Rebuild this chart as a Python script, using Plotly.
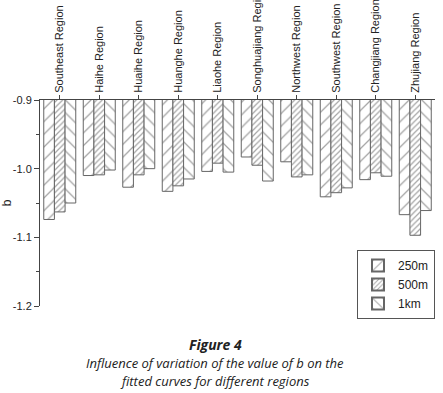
import plotly.graph_objects as go

regions = ["Southeast Region", "Haihe Region", "Huaihe Region", "Huanghe Region",
           "Liaohe Region", "Songhuajiang Region", "Northwest Region",
           "Southwest Region", "Changjiang Region", "Zhujiang Region"]
b_250m = [-1.074, -1.010, -1.027, -1.033, -1.004, -0.983, -0.990, -1.041, -1.016, -1.067]
b_500m = [-1.063, -1.009, -1.009, -1.025, -0.992, -0.995, -1.012, -1.035, -1.006, -1.097]
b_1km = [-1.050, -1.002, -1.000, -1.015, -1.005, -1.018, -1.009, -1.028, -1.011, -1.061]
series_names = ["250m", "500m", "1km"]
y_ticks = [-0.9, -1.0, -1.1, -1.2]
caption_lines = ["<b><i>Figure 4</i></b>",
                 "<i>Influence of variation of the value of b on the</i>",
                 "<i>fitted curves for different regions</i>"]

patterns = [
    dict(shape="/", size=9, solidity=0.14, fgcolor="#4a4a4a", bgcolor="white"),
    dict(shape="/", size=4, solidity=0.3, fgcolor="#4a4a4a", bgcolor="white"),
    dict(shape="\\", size=9, solidity=0.14, fgcolor="#4a4a4a", bgcolor="white"),
]

L, R, T, B = 40, 8, 100, 87
W, H = 443, 393
pw, ph = W - L - R, H - T - B

fig = go.Figure()
for name, vals, pat in zip(series_names, [b_250m, b_500m, b_1km], patterns):
    fig.add_trace(go.Bar(
        x=regions, y=vals, name=name,
        marker=dict(color="white", pattern=pat,
                    line=dict(color="#666666", width=1)),
    ))

fig.update_layout(
    width=W, height=H,
    margin=dict(l=L, r=R, t=T, b=B),
    paper_bgcolor="white", plot_bgcolor="white",
    barmode="group", bargap=0.19, bargroupgap=0,
    font=dict(family="Liberation Sans, Arial", size=11, color="#222222"),
    showlegend=True,
    legend=dict(x=1.0, y=(H - B - 250) / ph, xanchor="right", yanchor="top",
                bordercolor="#555555", borderwidth=1, bgcolor="white",
                font=dict(size=12), tracegroupgap=0, itemwidth=30,
                itemsizing="constant"),
)

fig.update_xaxes(
    side="top", tickangle=-90, showline=True, linecolor="#444444", linewidth=1,
    ticks="outside", ticklen=4, tickcolor="#444444", showgrid=False,
    tickfont=dict(size=11, family="Liberation Sans, Arial"), automargin=False,
)
fig.update_yaxes(
    range=[-1.2, -0.9], tickvals=y_ticks, ticktext=[f"{v:.1f}" for v in y_ticks],
    showline=True, linecolor="#444444", linewidth=1, ticks="outside", ticklen=5,
    tickcolor="#444444", showgrid=False, zeroline=False,
    minor=dict(tickvals=[-0.95, -1.05, -1.15], ticks="outside", ticklen=3, tickcolor="#444444"),
    title=dict(text="b", standoff=14, font=dict(size=12)),
    tickfont=dict(size=11), automargin=False,
)

for txt, ypix, size in zip(caption_lines, [344, 363, 381], [14, 13, 13]):
    fig.add_annotation(text=txt, x=(215 - L) / pw, y=(H - B - ypix) / ph,
                       xref="paper", yref="paper", xanchor="center", yanchor="middle",
                       showarrow=False,
                       font=dict(family="Open Sans", size=size, color="#222222"))

fig.write_html("out.html", config={"displayModeBar": False},
               post_script="document.body.style.margin='0';document.body.style.overflow='hidden';")
